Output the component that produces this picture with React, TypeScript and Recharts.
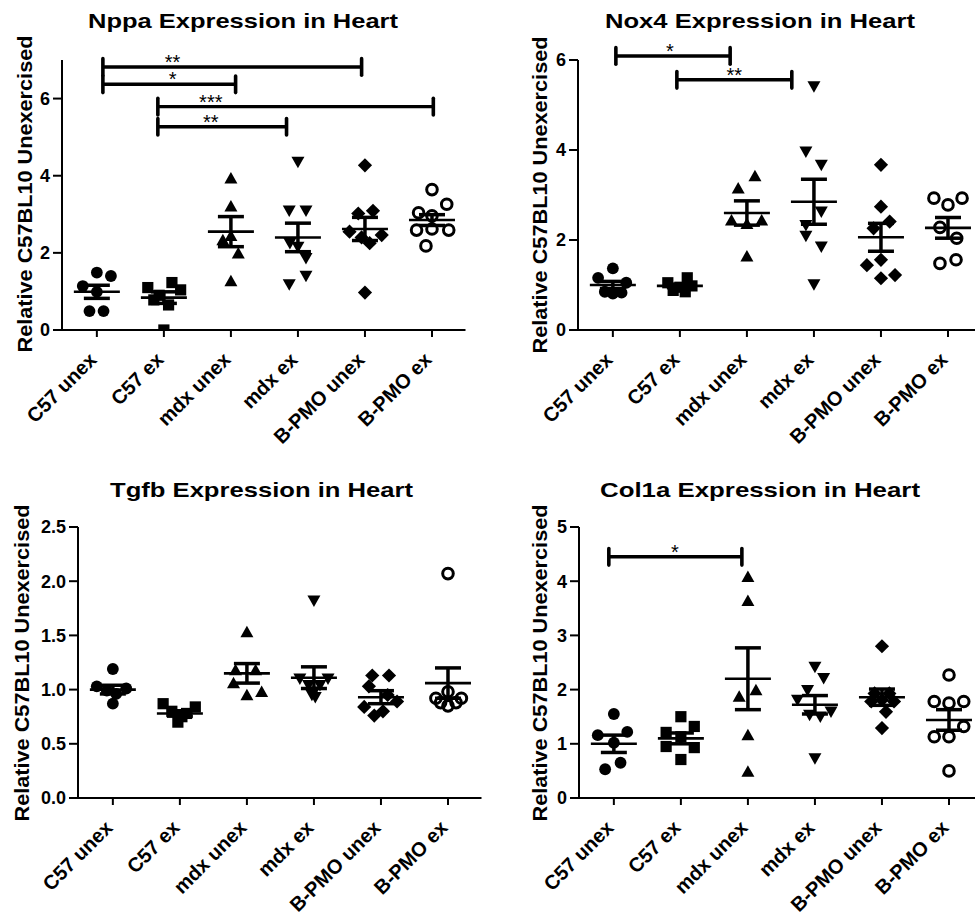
import React from 'react';
import { ScatterChart, Scatter, XAxis, YAxis, ErrorBar, ReferenceLine } from 'recharts';

const CATEGORIES = ['C57 unex', 'C57 ex', 'mdx unex', 'mdx ex', 'B-PMO unex', 'B-PMO ex'];
const CATEGORY_TICKS = [1, 2, 3, 4, 5, 6];

// ---------- Nppa ----------
const NPPA_VALUES = [
  [1.49, 1.40, 1.14, 0.99, 0.49, 0.49],
  [1.23, 1.10, 1.04, 0.90, 0.78, 0.65, 0.0],
  [3.93, 3.21, 2.44, 2.33, 1.99, 1.27],
  [4.36, 3.09, 3.09, 2.25, 2.15, 1.86, 1.40, 1.18],
  [4.27, 3.09, 3.02, 2.55, 2.46, 2.40, 2.25, 0.97],
  [3.64, 3.26, 3.04, 2.96, 2.59, 2.62, 2.59, 2.18],
];
const NPPA_JITTER = [
  [0, 0.21, -0.21, 0, -0.11, 0.1],
  [0.12, -0.24, 0.25, -0.07, -0.15, 0.07, 0],
  [0, 0, 0, -0.12, 0.11, 0],
  [0, -0.13, 0.12, -0.12, 0.0, 0.12, 0.12, -0.13],
  [0, 0.12, -0.1, -0.23, 0.25, -0.05, 0.07, 0],
  [0, 0.22, -0.2, 0, -0.23, 0, 0.25, -0.09],
];
const NPPA_MEAN = [0.99, 0.84, 2.55, 2.40, 2.62, 2.85];
const NPPA_SEM = [0.17, 0.15, 0.39, 0.37, 0.30, 0.14];
const NPPA_TICKS = [0, 2, 4, 6];
const NPPA_BRACKETS = [
  { x1: 1.09, x2: 4.95, y: 6.82, label: '**', labelX: 2.13 },
  { x1: 1.09, x2: 3.07, y: 6.37, label: '*', labelX: 2.13 },
  { x1: 1.91, x2: 6.02, y: 5.79, label: '***', labelX: 2.7 },
  { x1: 1.91, x2: 3.83, y: 5.27, label: '**', labelX: 2.7 },
];

// ---------- Nox4 ----------
const NOX4_VALUES = [
  [1.37, 1.16, 1.05, 0.85, 0.81, 0.83],
  [1.16, 1.05, 0.98, 0.95, 0.88, 0.85],
  [3.42, 3.15, 2.44, 2.36, 2.44, 1.64],
  [5.41, 3.96, 3.67, 2.63, 2.33, 2.09, 1.85, 1.01],
  [3.67, 2.74, 2.41, 2.26, 1.56, 1.44, 1.22, 1.15],
  [2.93, 2.78, 2.93, 2.28, 2.04, 1.48, 1.56],
];
const NOX4_JITTER = [
  [0, -0.22, 0.2, -0.12, 0, 0.13],
  [0.11, -0.18, 0.18, 0, -0.1, 0.08],
  [0.12, -0.13, -0.23, 0, 0.22, 0],
  [0, -0.12, 0.11, 0.11, -0.12, -0.12, 0.11, 0],
  [0, 0, 0.13, -0.11, 0, -0.21, 0.21, 0],
  [-0.21, 0, 0.21, -0.12, 0.13, -0.12, 0.12],
];
const NOX4_MEAN = [1.0, 0.98, 2.6, 2.85, 2.06, 2.27];
const NOX4_SEM = [0.08, 0.04, 0.27, 0.5, 0.31, 0.23];
const NOX4_TICKS = [0, 2, 4, 6];
const NOX4_BRACKETS = [
  { x1: 1.045, x2: 2.75, y: 6.09, label: '*', labelX: 1.85 },
  { x1: 1.955, x2: 3.67, y: 5.56, label: '**', labelX: 2.81 },
];

// ---------- Tgfb ----------
const TGFB_VALUES = [
  [1.19, 1.03, 1.01, 0.99, 0.96, 0.87],
  [0.87, 0.84, 0.8, 0.78, 0.75, 0.7],
  [1.53, 1.18, 1.18, 1.06, 0.95, 0.98],
  [1.82, 1.1, 1.1, 1.04, 1.04, 0.98, 0.95, 0.93],
  [1.13, 1.13, 1.03, 0.95, 0.89, 0.84, 0.8, 0.76],
  [2.07, 0.98, 0.92, 0.92, 0.88, 0.88, 0.85],
];
const TGFB_JITTER = [
  [0, -0.24, 0.2, -0.09, 0.05, 0],
  [-0.25, 0.23, -0.12, 0.1, 0.03, -0.03],
  [0, -0.17, 0.13, -0.2, 0, 0.22],
  [0, -0.21, 0.21, -0.08, 0.09, 0, -0.03, 0.02],
  [-0.13, 0.12, -0.18, 0.1, 0.24, -0.25, 0.03, -0.1],
  [0, 0, -0.18, 0.2, -0.11, 0.12, 0],
];
const TGFB_MEAN = [1.0, 0.78, 1.15, 1.11, 0.93, 1.06];
const TGFB_SEM = [0.04, 0.025, 0.09, 0.1, 0.06, 0.14];
const TGFB_TICKS = [0, 0.5, 1.0, 1.5, 2.0, 2.5];

// ---------- Col1a ----------
const COL1A_VALUES = [
  [1.55, 1.22, 1.16, 1.02, 0.65, 0.53],
  [1.5, 1.32, 1.21, 1.13, 0.93, 0.95, 0.71],
  [4.08, 3.64, 1.99, 1.87, 1.16, 0.49],
  [2.42, 2.21, 1.99, 1.81, 1.59, 1.53, 1.5, 0.73],
  [2.8, 1.93, 1.93, 1.81, 1.78, 1.78, 1.59, 1.29],
  [2.27, 1.78, 1.75, 1.78, 1.32, 1.13, 1.13, 0.5],
];
const COL1A_JITTER = [
  [0, 0.2, -0.24, 0, 0.1, -0.13],
  [0, 0.2, -0.22, 0, 0.2, -0.22, 0],
  [0, 0, 0.12, -0.13, 0, 0],
  [0, 0.13, -0.11, -0.26, 0.24, -0.08, 0.08, 0],
  [0, -0.11, 0.11, 0, -0.16, 0.18, 0.06, 0],
  [0, -0.22, 0, 0.22, 0.22, -0.22, 0, 0],
];
const COL1A_MEAN = [1.0, 1.1, 2.2, 1.72, 1.86, 1.44];
const COL1A_SEM = [0.16, 0.1, 0.57, 0.17, 0.15, 0.19];
const COL1A_TICKS = [0, 1, 2, 3, 4, 5];
const COL1A_BRACKETS = [{ x1: 0.925, x2: 2.91, y: 4.45, label: '*', labelX: 1.91 }];

const FONT = '"Liberation Sans", Arial, Helvetica, sans-serif';
const Y_LABEL = 'Relative C57BL10 Unexercised';

// ---------- marker shapes ----------
const circleShape = (p: any) => <circle cx={p.cx} cy={p.cy} r={5.9} fill="#000" />;
const squareShape = (p: any) => (
  <rect x={p.cx - 5.6} y={p.cy - 5.6} width={11.2} height={11.2} fill="#000" />
);
const triUpShape = (p: any) => (
  <polygon
    points={`${p.cx},${p.cy - 6.3} ${p.cx - 6.5},${p.cy + 5.2} ${p.cx + 6.5},${p.cy + 5.2}`}
    fill="#000"
  />
);
const triDownShape = (p: any) => (
  <polygon
    points={`${p.cx - 6.5},${p.cy - 5.2} ${p.cx + 6.5},${p.cy - 5.2} ${p.cx},${p.cy + 6.3}`}
    fill="#000"
  />
);
const diamondShape = (p: any) => (
  <polygon
    points={`${p.cx},${p.cy - 7.1} ${p.cx + 7.1},${p.cy} ${p.cx},${p.cy + 7.1} ${p.cx - 7.1},${p.cy}`}
    fill="#000"
  />
);
const openCircleShape = (p: any) => (
  <circle cx={p.cx} cy={p.cy} r={5.3} fill="none" stroke="#000" strokeWidth={3} />
);
const SHAPES = [circleShape, squareShape, triUpShape, triDownShape, diamondShape, openCircleShape];

const meanShape = (p: any) => (
  <line x1={p.cx - 23} x2={p.cx + 23} y1={p.cy} y2={p.cy} stroke="#000" strokeWidth={2.6} />
);

const renderXTick = (p: any) => {
  const label = CATEGORIES[Math.round(p.payload.value) - 1];
  const ax = p.x + 1;
  const ay = p.y;
  return (
    <text
      x={ax}
      y={ay}
      transform={`rotate(-45 ${ax} ${ay})`}
      textAnchor="end"
      fontSize={20}
      fontWeight="bold"
      fontFamily={FONT}
      fill="#000"
    >
      {label}
    </text>
  );
};

const makeYTick = (decimals: number) => (p: any) => (
  <text
    x={p.x}
    y={p.y}
    dy="0.36em"
    textAnchor="end"
    fontSize={18}
    fontWeight="bold"
    fontFamily={FONT}
    fill="#000"
  >
    {Number(p.payload.value).toFixed(decimals)}
  </text>
);

const renderBracket = (p: any, b: any) => {
  const { x1, x2, y1 } = p;
  const lx = x1 + ((b.labelX - b.x1) / (b.x2 - b.x1)) * (x2 - x1);
  return (
    <g>
      <line x1={x1} x2={x2} y1={y1} y2={y1} stroke="#000" strokeWidth={3.4} />
      <line x1={x1} x2={x1} y1={y1 - 8.3} y2={y1 + 8.3} stroke="#000" strokeWidth={3.6} strokeLinecap="round" />
      <line x1={x2} x2={x2} y1={y1 - 8.3} y2={y1 + 8.3} stroke="#000" strokeWidth={3.6} strokeLinecap="round" />
      <text x={lx} y={y1 + 2} textAnchor="middle" fontSize={20} fontFamily={FONT} fill="#000">
        {b.label}
      </text>
    </g>
  );
};

const PANELS = [
  {
    key: 'nppa', left: 0, top: 0, width: 490, height: 450, yAxisWidth: 62, marginRight: 24.5,
    yDomain: [0, 7], yTicks: NPPA_TICKS, decimals: 0,
    values: NPPA_VALUES, jitter: NPPA_JITTER, means: NPPA_MEAN, sems: NPPA_SEM, brackets: NPPA_BRACKETS,
  },
  {
    key: 'nox4', left: 490, top: 0, width: 495, height: 450, yAxisWidth: 88, marginRight: 3.5,
    yDomain: [0, 6], yTicks: NOX4_TICKS, decimals: 0,
    values: NOX4_VALUES, jitter: NOX4_JITTER, means: NOX4_MEAN, sems: NOX4_SEM, brackets: NOX4_BRACKETS,
  },
  {
    key: 'tgfb', left: 0, top: 467, width: 490, height: 451, yAxisWidth: 78, marginRight: 8.5,
    yDomain: [0, 2.5], yTicks: TGFB_TICKS, decimals: 1,
    values: TGFB_VALUES, jitter: TGFB_JITTER, means: TGFB_MEAN, sems: TGFB_SEM, brackets: [],
  },
  {
    key: 'col1a', left: 490, top: 467, width: 495, height: 451, yAxisWidth: 89, marginRight: 2.5,
    yDomain: [0, 5], yTicks: COL1A_TICKS, decimals: 0,
    values: COL1A_VALUES, jitter: COL1A_JITTER, means: COL1A_MEAN, sems: COL1A_SEM, brackets: COL1A_BRACKETS,
  },
];

const TITLES = [
  { text: 'Nppa Expression in Heart', x: 88, y: 28, len: 310 },
  { text: 'Nox4 Expression in Heart', x: 605, y: 28, len: 310 },
  { text: 'Tgfb Expression in Heart', x: 110, y: 497, len: 303 },
  { text: 'Col1a Expression in Heart', x: 600, y: 497, len: 320 },
];
const Y_LABELS = [
  { x: 32, y: 194 },
  { x: 547, y: 195 },
  { x: 29, y: 663 },
  { x: 547, y: 663 },
];

function Panel({ cfg }: { cfg: any }) {
  const groups = cfg.values.map((vals: number[], g: number) =>
    vals.map((v: number, i: number) => ({ x: g + 1 + cfg.jitter[g][i], y: v }))
  );
  const summary = cfg.means.map((m: number, g: number) => ({ x: g + 1, y: m, err: cfg.sems[g] }));
  const axisStyle = { stroke: '#000', strokeWidth: 2 };
  return (
    <div style={{ position: 'absolute', left: cfg.left, top: cfg.top }}>
      <ScatterChart
        width={cfg.width}
        height={cfg.height}
        margin={{ top: 60, right: cfg.marginRight, bottom: 0, left: 0 }}
      >
        <XAxis
          type="number"
          dataKey="x"
          domain={[0.48, 6.5]}
          ticks={CATEGORY_TICKS}
          interval={0}
          height={120}
          tickSize={7}
          tickMargin={24}
          axisLine={axisStyle}
          tickLine={axisStyle}
          tick={renderXTick}
          allowDataOverflow
        />
        <YAxis
          type="number"
          dataKey="y"
          domain={cfg.yDomain}
          ticks={cfg.yTicks}
          interval={0}
          width={cfg.yAxisWidth}
          tickSize={9}
          tickMargin={3}
          axisLine={axisStyle}
          tickLine={axisStyle}
          tick={makeYTick(cfg.decimals)}
          allowDataOverflow
        />
        {groups.map((data: any[], g: number) => (
          <Scatter key={`g${g}`} data={data} shape={SHAPES[g]} isAnimationActive={false} />
        ))}
        <Scatter data={summary} shape={meanShape} isAnimationActive={false}>
          <ErrorBar dataKey="err" width={13} strokeWidth={3.5} stroke="#000" direction="y" isAnimationActive={false} />
        </Scatter>
        {cfg.brackets.map((b: any, i: number) => (
          <ReferenceLine
            key={`b${i}`}
            segment={[{ x: b.x1, y: b.y }, { x: b.x2, y: b.y }]}
            ifOverflow="visible"
            shape={(p: any) => renderBracket(p, b)}
          />
        ))}
      </ScatterChart>
    </div>
  );
}

export default function App() {
  return (
    <div
      style={{
        position: 'absolute',
        left: 0,
        top: 0,
        width: 975,
        height: 920,
        overflow: 'hidden',
        background: '#fff',
      }}
    >
      {PANELS.map((cfg) => (
        <Panel key={cfg.key} cfg={cfg} />
      ))}
      <svg
        width={975}
        height={920}
        style={{ position: 'absolute', left: 0, top: 0, pointerEvents: 'none' }}
      >
        {TITLES.map((t) => (
          <text
            key={t.text}
            x={t.x}
            y={t.y}
            fontSize={21}
            fontWeight="bold"
            fontFamily={FONT}
            textLength={t.len}
            lengthAdjust="spacingAndGlyphs"
            fill="#000"
          >
            {t.text}
          </text>
        ))}
        {Y_LABELS.map((l, i) => (
          <text
            key={`yl${i}`}
            x={l.x}
            y={l.y}
            transform={`rotate(-90 ${l.x} ${l.y})`}
            textAnchor="middle"
            fontSize={21}
            fontWeight="bold"
            fontFamily={FONT}
            textLength={317}
            lengthAdjust="spacingAndGlyphs"
            fill="#000"
          >
            {Y_LABEL}
          </text>
        ))}
      </svg>
    </div>
  );
}
